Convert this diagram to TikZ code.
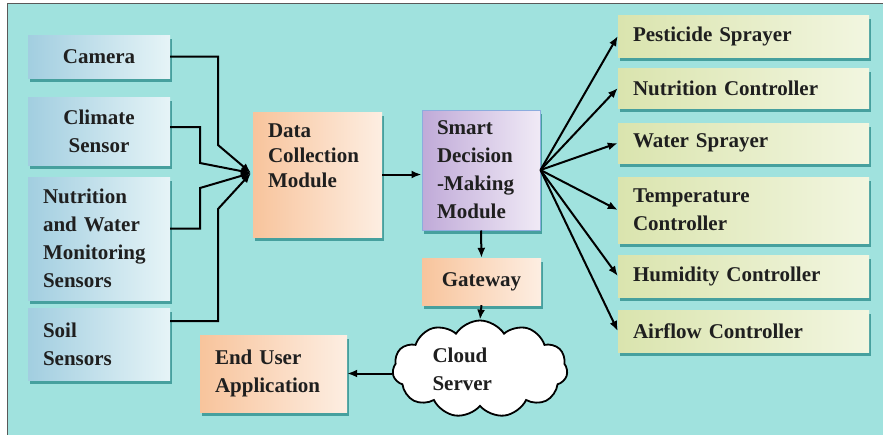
\documentclass[tikz,border=0pt]{standalone}
\usepackage{fontspec}
\setmainfont{Liberation Serif}
\usetikzlibrary{arrows.meta,shapes.symbols,shadows,calc}

\definecolor{bgteal}{RGB}{160,226,222}
\definecolor{shadowteal}{RGB}{70,160,158}
\definecolor{sensorblue}{RGB}{162,206,224}
\definecolor{sensorlight}{RGB}{230,244,247}
\definecolor{peach}{RGB}{248,196,156}
\definecolor{peachlight}{RGB}{253,238,226}
\definecolor{lilac}{RGB}{192,170,216}
\definecolor{lilaclight}{RGB}{240,234,246}
\definecolor{lilacedge}{RGB}{140,172,222}
\definecolor{leaf}{RGB}{218,228,174}
\definecolor{leaflight}{RGB}{242,246,224}

\tikzset{
    % text inside all boxes
    boxtext/.style = {font=\fontsize{21}{28}\selectfont\bfseries, text=black!88, inner xsep=15pt, inner ysep=0pt, align=left},
    % shadow under the boxes
    boxshadow/.style = {drop shadow={shadow xshift=1.5pt, shadow yshift=-4pt, fill=shadowteal, opacity=1}},
    % sensor boxes (left column)
    sensor/.style = {boxtext, boxshadow, left color=sensorblue, right color=sensorlight},
    % module boxes (orange)
    module/.style = {boxtext, boxshadow, left color=peach, right color=peachlight},
    % decision box (purple)
    decision/.style = {boxtext, boxshadow, left color=lilac, right color=lilaclight, draw=lilacedge, line width=1pt},
    % actuator boxes (right column)
    actuator/.style = {boxtext, boxshadow, left color=leaf, right color=leaflight, text width=221pt},
    % cloud server
    fcloud/.style = {cloud, cloud puffs=11, cloud puff arc=115, cloud ignores aspect, draw, fill=white, line width=1.8pt, boxtext, inner sep=0pt, minimum width=175pt, minimum height=97pt, text width=95pt},
    % connectors
    wire/.style = {line width=2pt, -{Latex[length=10pt,width=8pt]}}
}

\begin{document}
\begin{tikzpicture}[x=1pt, y=-1pt]
\useasboundingbox (0,0) rectangle (883,434);
\draw[fill=bgteal, draw=black!65, line width=1pt] (7,3) rectangle (895,445);

% sensors
\node[sensor, align=center, text width=112pt, minimum height=43pt] (cam) at (99,56.5) {Camera};
\node[sensor, align=center, text width=112pt, minimum height=68pt] (cli) at (99,131) {Climate\\Sensor};
\node[sensor, text width=112pt, minimum height=123pt] (nut) at (99,238.5) {Nutrition\\and Water\\Monitoring\\Sensors};
\node[sensor, text width=112pt, minimum height=72pt] (soil) at (99,344) {Soil\\Sensors};
\coordinate (junc) at (251,173);

% modules
\node[module, inner ysep=12pt, minimum height=125pt] (dcm) at (317.5,174.5) {\parbox[c][101pt][t]{99pt}{\fontsize{21}{25}\selectfont Data\\Collection\\Module}};
\node[decision, text width=88pt, minimum height=120pt] (sdm) at (481,170) {Smart\\Decision\\-Making\\Module};
\node[module, align=center, text width=89pt, minimum height=47pt] (gw) at (481.5,281.5) {Gateway};
\node[fcloud] (cs) at (480,369) {Cloud\\Server};
\node[module, text width=117pt, minimum height=77pt] (eua) at (273.5,373.5) {End User\\Application};

% actuators
\foreach \i/\y/\h/\act in {ps/36/42pt/Pesticide Sprayer,nc/88/40pt/Nutrition Controller,ws/143/40pt/Water Sprayer,tc/210/66pt/{Temperature\\Controller},hc/276/42pt/Humidity Controller,ac/331/42pt/Airflow Controller}
  \node[actuator, minimum height=\h] (\i) at (743.5,\y) {\act};

% connectors
\draw[wire] (cam.east) -| (218,145) -- (junc);
\draw[wire] ([yshift=4pt]cli.east) -| (200,163) -- (junc);
\draw[wire] ([yshift=10pt]nut.east) -| (200,188) -- (junc);
\draw[wire] ([yshift=23pt]soil.east) -| (218,209) -- (junc);
\draw[wire] (dcm.east) -- (dcm.east -| sdm.west);
\draw[wire] (sdm.south) -- (gw.north);
\draw[wire] (gw.south) -- (cs.north);
\draw[wire] (cs.west |- eua.east) -- (eua.east);
\foreach \i in {ps,nc,ws,tc,hc,ac}
  \draw[wire] (sdm.east) -- (\i.west);

\end{tikzpicture}
\end{document}
